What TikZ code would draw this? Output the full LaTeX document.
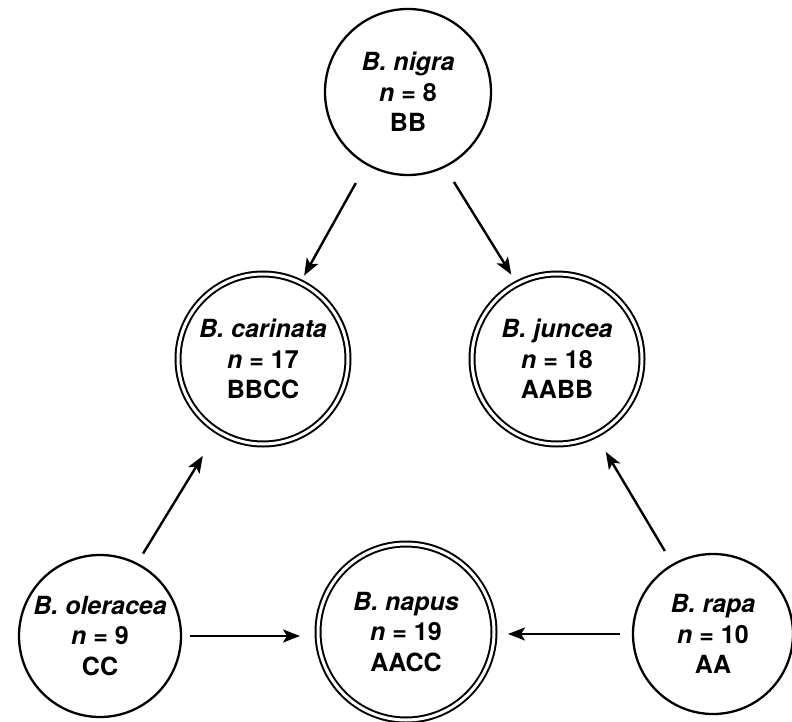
\documentclass[tikz,border=0pt]{standalone}
\usepackage{fontspec}
\setmainfont{TeX Gyre Heros}
\usetikzlibrary{arrows.meta}
\begin{document}
\begin{tikzpicture}[x=1pt,y=-1pt,
  sp/.style={circle,draw,line width=2.3pt,inner sep=0pt,outer sep=0pt,align=center,
     font=\fontsize{25}{30.5}\selectfont\bfseries},
  hyb/.style={sp,double,double distance=3pt,line width=2pt},
  arr/.style={line width=2.4pt,-{Stealth[length=17pt,width=13pt,inset=4pt]}}]
\useasboundingbox (0,0) rectangle (792,722);
\node[sp,minimum size=166pt] (nigra) at (408,92) {\itshape B. nigra\\\textit{n} = 8\\BB};
\node[hyb,minimum size=170pt] (carinata) at (263,359) {\itshape B. carinata\\\textit{n} = 17\\BBCC};
\node[hyb,minimum size=170pt] (juncea) at (557,359) {\itshape B. juncea\\\textit{n} = 18\\AABB};
\node[sp,minimum size=162pt] (oleracea) at (100,636) {\itshape B. oleracea\\\textit{n} = 9\\CC};
\node[hyb,minimum size=176pt] (napus) at (406,632) {\itshape B. napus\\\textit{n} = 19\\AACC};
\node[sp,minimum size=160pt] (rapa) at (713,634) {\itshape B. rapa\\\textit{n} = 10\\AA};
\draw[arr,shorten <=22pt,shorten >=8pt] (nigra.240) -- (carinata.64);
\draw[arr,shorten <=18pt,shorten >=11pt] (nigra.296) -- (juncea.118);
\draw[arr,shorten <=12pt,shorten >=29pt] (oleracea.63) -- (carinata.238);
\draw[arr,shorten <=16pt,shorten >=20pt] (rapa.120) -- (juncea.297);
\draw[arr,shorten <=9pt,shorten >=18pt] (oleracea.east) -- (oleracea.east -| napus.west);
\draw[arr,shorten <=13pt,shorten >=14pt] (rapa.west) -- (rapa.west -| napus.east);
\end{tikzpicture}
\end{document}
